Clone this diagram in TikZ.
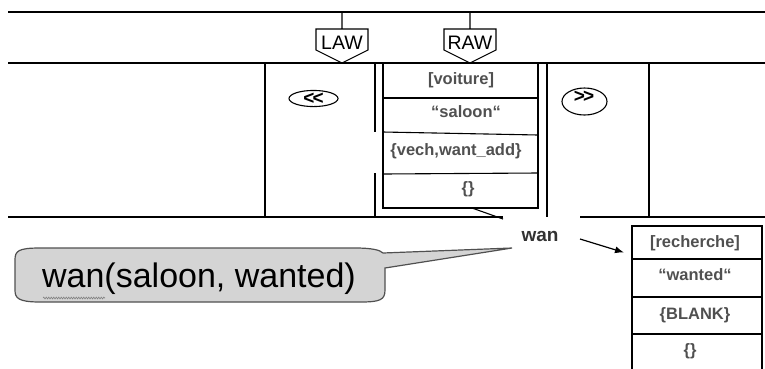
\documentclass[tikz,border=0pt]{standalone}
\usepackage{fontspec}
\setmainfont{Liberation Sans}
\usetikzlibrary{shapes.geometric,decorations.pathmorphing,arrows.meta}
\definecolor{gristexte}{RGB}{80,80,80}
\definecolor{grismot}{RGB}{50,50,50}
\definecolor{grisbulle}{RGB}{212,212,212}
\definecolor{bordbulle}{RGB}{80,80,80}
\begin{document}
\begin{tikzpicture}[x=1pt,y=-1pt,line width=1.1pt]
	\useasboundingbox (0,0) rectangle (765,368);

	\tikzstyle{case}=[text=gristexte,inner sep=0pt,text height=12.4pt,text depth=3.6pt,font=\fontsize{16.5}{18}\selectfont\bfseries]
	\tikzstyle{etiq}=[inner sep=0pt,font=\fontsize{19.5}{21}\selectfont]
	\tikzstyle{ovale}=[draw,ellipse,inner sep=0pt,font=\fontsize{19}{21}\selectfont\bfseries]
	\tikzstyle{cadre}=[line width=2.6pt]
	\tikzstyle{fleche}=[->,>={Latex[length=9pt,width=7pt]},line width=1.2pt]
	\tikzstyle{bulle}=[fill=grisbulle,draw=bordbulle,line width=1.2pt]

	\draw (8,12) -- (765,12);
	\draw (8,63) -- (765,63);
	\draw (8,217) -- (503,217);
	\draw (580,217) -- (765,217);
	\draw (265,63) -- (265,217);
	\draw (375,63) -- (375,132) (375,173) -- (375,217);
	\draw (547,63) -- (547,217);
	\draw (649,63) -- (649,217);

	\draw (342,12) -- (342,29) (316,29) -- (368,29) -- (368,50) -- (342,63) -- (316,50) -- cycle;
	\draw (470,12) -- (470,29) (444,29) -- (496,29) -- (496,50) -- (470,63) -- (444,50) -- cycle;
	\node[etiq] (law) at (342,42.5) {LAW};
	\node[etiq] (raw) at (470,42.5) {RAW};

	\node[ovale,minimum width=49,minimum height=15] (gauche) at (313.5,98.5) {<\kern-2pt<};
	\node[ovale,minimum width=45,minimum height=27] (droite) at (584.5,101.5) {};
	\node[font=\fontsize{19}{21}\selectfont\bfseries,inner sep=0pt] (droitetxt) at (584,97) {>\kern-2pt>};

	\draw[cadre] (383,63) rectangle (538,208);
	\draw (383,98) -- (538,98);
	\draw (383,132) -- (538,135);
	\draw (383,174) -- (538,173);
	\node[case] (voiture) at (461,80) {[voiture]};
	\node[case] (saloon) at (466,113.5) {“saloon“};
	\node[case] (vech) at (456,151) {\{vech,want\_add\}};
	\node[case] (vide1) at (468,189) {\{\}};

	\coordinate (d1) at (472,208);
	\coordinate (d2) at (503,219);
	\draw (d1) -- (d2);

	\node[text=grismot,inner sep=0pt,font=\fontsize{19}{21}\selectfont\bfseries] (wan) at (540,236.5) {wan};

	\coordinate (bout) at (512,248);
	\draw[bulle] (383,253) -- (bout) -- (385,268) -- (385,290) .. controls (385,300) and (380,302) .. (360,302) -- (40,302) .. controls (18,302) and (15,298) .. (15,290) -- (15,260) .. controls (15,251) and (18,248) .. (40,248) -- (355,248) .. controls (372,248) and (380,250) .. cycle;
	\node[inner sep=0pt,font=\fontsize{34}{38}\selectfont] (appel) at (199,279) {wan(saloon, wanted)};
	\draw[gray,line width=.6pt,decorate,decoration={snake,amplitude=.9pt,segment length=2.5pt}] (43,298) -- (105,298);

	\coordinate (a1) at (580,239);
	\coordinate (a2) at (624,252.5);
	\draw[fleche] (a1) -- (a2);

	\draw[cadre] (632,226) rectangle (762,380);
	\draw (632,259) -- (762,259);
	\draw (632,297) -- (762,297);
	\draw (632,334) -- (762,334);
	\node[case] (recherche) at (695,243) {[recherche]};
	\node[case] (wanted) at (695,276) {“wanted“};
	\node[case] (blank) at (695,315) {\{BLANK\}};
	\node[case] (vide2) at (690,351) {\{\}};
\end{tikzpicture}
\end{document}
